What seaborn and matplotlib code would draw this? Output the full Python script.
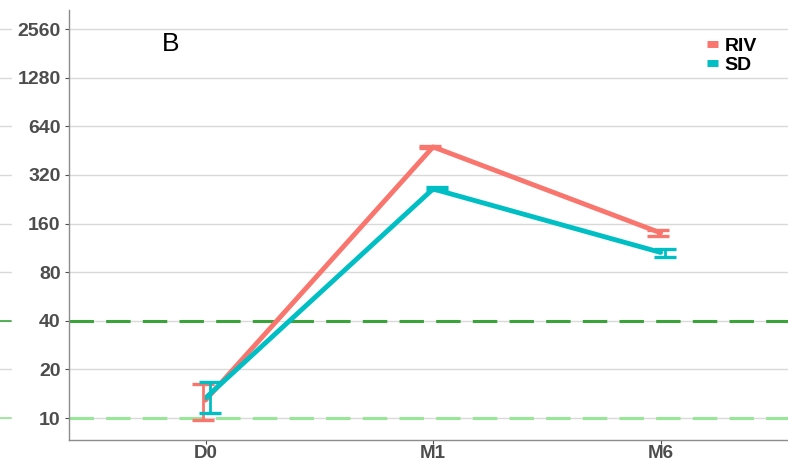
import numpy as np
import pandas as pd
import matplotlib
matplotlib.use("Agg")
import matplotlib.pyplot as plt
from matplotlib.ticker import FixedLocator, FixedFormatter, NullLocator
import seaborn as sns

# data
timepoints = ["D0", "M1", "M6"]
groups = ["RIV", "SD"]
riv_mean = [12.9, 477, 140]
riv_low = [9.7, 470, 134]
riv_high = [16.2, 485, 145]
sd_mean = [13.3, 262, 106]
sd_low = [10.7, 257, 99]
sd_high = [16.7, 268, 111]
y_ticks = [10, 20, 40, 80, 160, 320, 640, 1280, 2560]
ref_lines = [40, 10]
ref_colors = ["#3aa33a", "#98e698"]
palette = {"RIV": "#F8766D", "SD": "#00BFC4"}

sns.set_theme(style="white")
plt.rcParams["font.family"] = ["Liberation Sans", "DejaVu Sans"]

df = pd.DataFrame({
    "time": np.tile(np.arange(len(timepoints)), 2),
    "group": np.repeat(groups, len(timepoints)),
    "titre": riv_mean + sd_mean,
})

fig = plt.figure(figsize=(7.88, 4.61), dpi=100)
ax = fig.add_axes([69 / 788, 21 / 461, 719 / 788, 430 / 461])

ax.set_yscale("log", base=2)
ax.set_ylim(7.31, 3357)
ax.set_xlim(-0.6, 2.56)

for v in y_ticks:
    ax.axhline(v, color="#d9d9d9", lw=1.0, zorder=0)
for v, c in zip(ref_lines, ref_colors):
    ax.axhline(v, color=c, lw=2.2, dashes=(8, 4), zorder=1)

sns.lineplot(data=df, x="time", y="titre", hue="group", palette=palette,
             lw=3.5, ax=ax, legend=True, zorder=3)

offsets = {"RIV": -0.012, "SD": 0.018}
for g, m, lo, hi in [("RIV", riv_mean, riv_low, riv_high),
                     ("SD", sd_mean, sd_low, sd_high)]:
    m = np.array(m)
    x = np.arange(len(timepoints)) + offsets[g]
    err = [m - np.array(lo), np.array(hi) - m]
    ax.errorbar(x, m, yerr=err, fmt="none", ecolor=palette[g], elinewidth=2.0,
                capsize=8, capthick=2.4, zorder=4)

ax.yaxis.set_major_locator(FixedLocator(y_ticks))
ax.yaxis.set_major_formatter(FixedFormatter([str(v) for v in y_ticks]))
ax.yaxis.set_minor_locator(NullLocator())
ax.set_xticks(range(len(timepoints)))
ax.set_xticklabels(timepoints)
ax.set_xlabel("")
ax.set_ylabel("")
ax.tick_params(axis="both", which="major", labelsize=14, colors="#4d4d4d",
               length=3, width=0.8, direction="out", left=True, bottom=True, pad=3)
ax.tick_params(axis="x", pad=0.5, labelsize=13.5)
for lab in ax.get_xticklabels() + ax.get_yticklabels():
    lab.set_fontweight("bold")

for s in ["top", "right"]:
    ax.spines[s].set_visible(False)
for s in ["left", "bottom"]:
    ax.spines[s].set_color("#8c8c8c")
    ax.spines[s].set_linewidth(1.0)

ax.text(0.129, 0.921, "B", transform=ax.transAxes, fontsize=19, color="black",
        ha="left", va="center")

leg = ax.legend(loc="upper left", bbox_to_anchor=(0.877, 0.955), frameon=False,
                handlelength=0.55, handletextpad=0.35, labelspacing=0.1,
                borderaxespad=0, prop={"weight": "bold", "size": 14})
for h in leg.get_lines():
    h.set_linewidth(5)
    h.set_solid_capstyle("butt")
for t in leg.get_texts():
    t.set_color("black")

# fragments of the neighbouring panel at the left edge
tr = ax.get_yaxis_transform()
for v in y_ticks:
    ax.plot([-0.096, -0.08], [v, v], color="#d9d9d9", lw=1.0, transform=tr, clip_on=False)
for v, c in zip(ref_lines, ref_colors):
    ax.plot([-0.096, -0.08], [v, v], color=c, lw=1.2, transform=tr, clip_on=False)

fig.savefig("out.png", dpi=100)
